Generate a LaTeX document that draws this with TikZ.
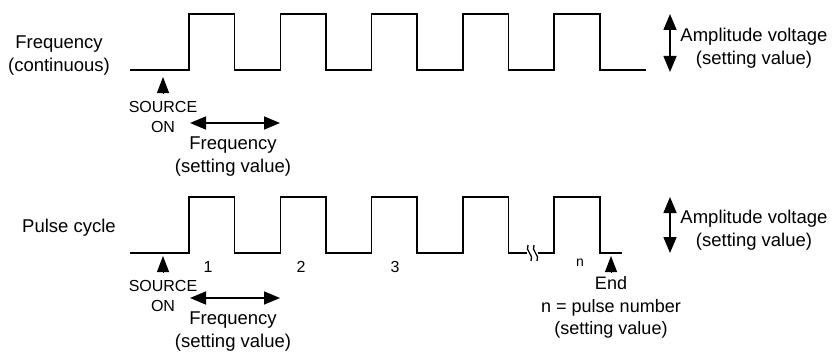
\documentclass[tikz,border=0pt]{standalone}
\usepackage{fontspec}
\setmainfont{Liberation Sans}
\usetikzlibrary{arrows.meta}

\begin{document}
\begin{tikzpicture}[x=1pt,y=-1pt,
        wave/.style={line width=1.6pt,line join=miter},
        lbl/.style={font=\fontsize{18.5}{23}\selectfont,align=center,inner sep=0pt},
        small/.style={font=\fontsize{16}{20}\selectfont,align=center,inner sep=0pt},
        twoway/.style={line width=1.6pt,{Triangle[length=16pt,width=13pt]}-{Triangle[length=16pt,width=13pt]}},
        marker/.style={line width=1pt,-{Triangle[length=16pt,width=12pt]}}]
            \def\p{91.3}
            \def\w{45.5}
            \def\r{189}

            \useasboundingbox (0,0) rectangle (832,353);

            % continuous
            \draw[wave] (130,70) \foreach \k in {0,...,4}{
                -- ({\r+\k*\p},70) -- ({\r+\k*\p},14) -- ({\r+\k*\p+\w},14) -- ({\r+\k*\p+\w},70)
            } -- (646,70);

            \node[lbl] (freqcont) at (59,55.5) {Frequency\\(continuous)};
            \node[small] (srcon1) at (163,117) {SOURCE\\ON};
            \coordinate (srcbase1) at (163,93);
            \coordinate (srcmark1) at (163,77);
            \draw[marker] (srcbase1) -- (srcmark1);
            \coordinate (freqL1) at (190,123);
            \coordinate (freqR1) at (280,123);
            \draw[twoway] (freqL1) -- (freqR1);
            \node[lbl] (freqset1) at (233,156.5) {Frequency\\(setting value)};
            \coordinate (ampT1) at (670,14);
            \coordinate (ampB1) at (670,72);
            \draw[twoway] (ampT1) -- (ampB1);
            \node[lbl] (amp1) at (754,48) {Amplitude voltage\\(setting value)};

            % pulse cycle
            \draw[wave] (130,253) \foreach \k in {0,...,3}{
                -- ({\r+\k*\p},253) -- ({\r+\k*\p},197) -- ({\r+\k*\p+\w},197) -- ({\r+\k*\p+\w},253)
            } -- (527,253);
            \draw[wave] (538,253) -- (554,253) -- (554,197) -- (600,197) -- (600,253) -- (622,253);
            \foreach \x in {529.5,535.5}{
                \draw[line width=1.3pt] (\x-1.5,245) .. controls (\x-5,250.5) and (\x+5,255.5) .. (\x+1.5,261);
            }

            \node[lbl] (pulsecyc) at (69,228) {Pulse cycle};
            \foreach \n/\x in {1/208,2/301,3/395}{
                \node[small] (num\n) at (\x,267) {\n};
            }
            \node[small,font=\fontsize{14}{16}\selectfont] (numn) at (580,263) {n};
            \node[small] (srcon2) at (163,295.5) {SOURCE\\ON};
            \coordinate (srcbase2) at (163,272);
            \coordinate (srcmark2) at (163,256);
            \draw[marker] (srcbase2) -- (srcmark2);
            \coordinate (freqL2) at (190,298);
            \coordinate (freqR2) at (280,298);
            \draw[twoway] (freqL2) -- (freqR2);
            \node[lbl] (freqset2) at (233,332) {Frequency\\(setting value)};
            \node[lbl,font=\fontsize{18}{22.5}\selectfont] (endlbl) at (611,307.5) {End\\n = pulse number\\(setting value)};
            \coordinate (endbase) at (611,272);
            \coordinate (endmark) at (611,256);
            \draw[marker] (endbase) -- (endmark);
            \coordinate (ampT2) at (670,197);
            \coordinate (ampB2) at (670,253);
            \draw[twoway] (ampT2) -- (ampB2);
            \node[lbl] (amp2) at (754,230) {Amplitude voltage\\(setting value)};

        \end{tikzpicture}
\end{document}
